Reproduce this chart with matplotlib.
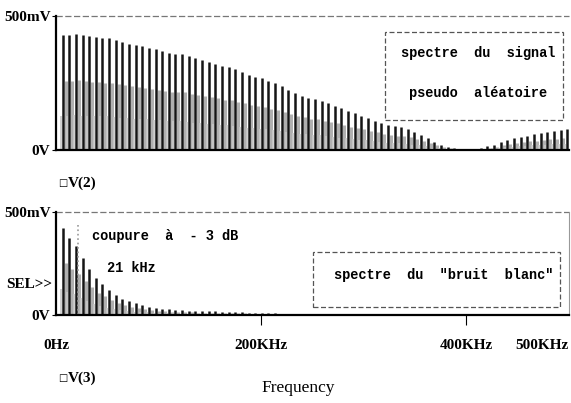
import numpy as np
import matplotlib
matplotlib.use('Agg')
import matplotlib.pyplot as plt
from matplotlib.patches import Rectangle

# raies du spectre : harmonique n -> n * f0 (kHz), amplitudes en mV
f0 = 6.47
harmoniques = list(range(1, 78))

v2 = [429, 429, 433, 429, 425, 421, 418, 418, 410, 403,
      396, 391, 388, 380, 376, 369, 363, 358, 358, 351,
      342, 335, 328, 321, 312, 308, 301, 290, 278, 273,
      267, 257, 250, 239, 225, 212, 203, 195, 190, 182,
      174, 166, 155, 146, 138, 128, 119, 110, 101, 93,
      88, 84, 78, 68, 56, 44, 30, 19, 12, 6,
      4, 2, 5, 9, 15, 20, 28, 36, 43, 49,
      53, 58, 62, 66, 70, 74, 77]

v3 = [420, 375, 335, 278, 225, 182, 150, 120, 96, 80,
      66, 56, 47, 41, 36, 31, 28, 25, 23, 21,
      20, 19, 18, 17, 16, 15, 14, 13, 12, 11,
      10, 9, 8, 7, 6, 5, 4, 4, 3, 3,
      2, 2, 2, 1, 1, 1, 1, 1, 1, 1,
      1, 1, 1, 1, 1, 1, 1, 1, 1, 0,
      0, 0, 0, 0, 1, 1, 1, 1, 1, 1,
      1, 1, 1, 1, 1, 1, 1]

xticks = [0, 200, 400, 500]
xlabels = ['0Hz', '200KHz', '400KHz', '500KHz']
f_coupure = 21

W, H = 571, 403
fig = plt.figure(figsize=(W / 100, H / 100), dpi=100)

lab = dict(family='Liberation Serif', weight='bold', fontsize=11)
txt = dict(family='Liberation Mono', weight='bold', fontsize=9.8)


def fx(x):
    return x / W


def fy(y):
    return 1 - y / H


freqs = np.array(harmoniques) * f0


def spectre(ax, vals):
    vals = np.array(vals)
    # texture grise du scan autour de chaque raie
    ax.vlines(freqs + f0 * 0.45, 0, vals * 0.6, color='#b0b0b0', lw=2.2)
    ax.vlines(freqs - f0 * 0.3, 0, vals * 0.3, color='#c8c8c8', lw=1.2)
    ax.vlines(freqs, 0, vals, color='#151515', lw=1.8)
    ax.set_xlim(0, 500)
    ax.set_ylim(0, 500)
    for s in ['top', 'right']:
        ax.spines[s].set_visible(False)
    ax.spines['left'].set_linewidth(1.6)
    ax.spines['bottom'].set_linewidth(1.6)
    ax.plot([0, 500], [500, 500], ls=(0, (5, 2)), color='#777777', lw=0.9, clip_on=False)
    ax.set_yticks([0, 500], ['0V', '500mV'], **lab)
    ax.tick_params(axis='y', length=3, pad=1)


ax1 = fig.add_axes([fx(56), fy(150), 513 / W, 134 / H])
spectre(ax1, v2)
ax1.set_xticks([])

ax2 = fig.add_axes([fx(56), fy(315), 513 / W, 103 / H])
spectre(ax2, v3)
ax2.spines['right'].set_visible(True)
ax2.spines['right'].set_color('#999999')
ax2.spines['right'].set_linewidth(0.8)
ax2.vlines(f_coupure, 0, 445, color='#999999', lw=1.2, ls=':')
ax2.set_xticks(xticks, xlabels, **lab)
ax2.tick_params(axis='x', length=7, pad=10)
ax2.get_xticklabels()[-1].set_ha('right')
for t in [ax2.xaxis.get_major_ticks()[0], ax2.xaxis.get_major_ticks()[-1]]:
    t.tick1line.set_visible(False)
ax2.text(-4, 146, 'SEL>>', ha='right', va='center', **lab)

# cadres d'annotation
for (x0, y0, x1, y1) in [(385, 32, 563, 120), (313, 252, 560, 307)]:
    fig.patches.append(Rectangle((fx(x0), fy(y1)), fx(x1 - x0), (y1 - y0) / H,
                                 transform=fig.transFigure, fill=False,
                                 ec='#555555', lw=0.9, ls=(0, (4, 2))))

fig.text(fx(478), fy(53), 'spectre  du  signal', ha='center', va='center', **txt)
fig.text(fx(478), fy(93), 'pseudo  aléatoire', ha='center', va='center', **txt)
fig.text(fx(444), fy(275), 'spectre  du  "bruit  blanc"', ha='center', va='center', **txt)
fig.text(fx(92), fy(236), 'coupure  à  - 3 dB', ha='left', va='center', **txt)
fig.text(fx(107), fy(268), '21 kHz', ha='left', va='center', **txt)

# legendes des traces
for y, nom in [(183, 'V(2)'), (378, 'V(3)')]:
    fig.text(fx(58), fy(y), '□', ha='left', va='center', family='DejaVu Sans', fontsize=7)
    fig.text(fx(68), fy(y), nom, ha='left', va='center', **lab)

fig.text(fx(298), fy(388), 'Frequency', ha='center', va='center',
         family='Liberation Serif', fontsize=12.5)

fig.savefig('out.png', dpi=100)
